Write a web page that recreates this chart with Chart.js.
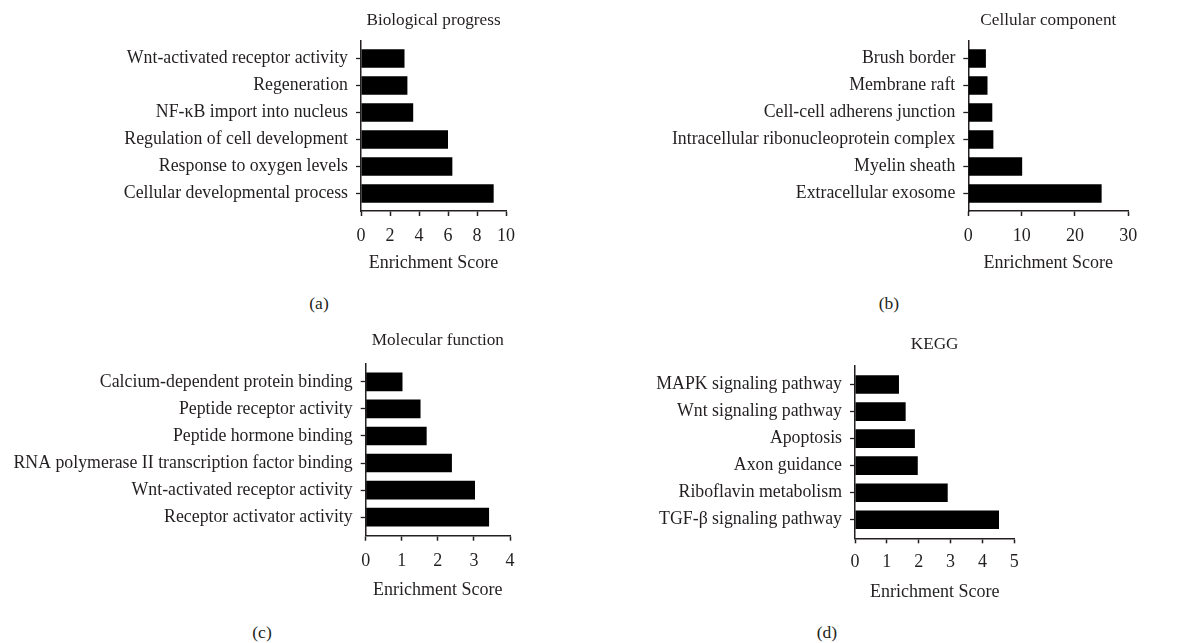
<!DOCTYPE html>
<html>
<head>
<meta charset="utf-8">
<script src="https://cdn.jsdelivr.net/npm/chart.js@4.4.1/dist/chart.umd.min.js"></script>
<style>
  html, body { margin: 0; padding: 0; background: #ffffff; }
  #wrap { position: relative; width: 1180px; height: 643px; overflow: hidden; background: #ffffff; }
  canvas { position: absolute; }
  .cap { position: absolute; font-family: "Liberation Serif", "DejaVu Serif", serif; font-size: 17.5px;
         color: #231f20; transform: translate(-50%, -50%); white-space: nowrap; line-height: 20px; }
</style>
</head>
<body>
<div id="wrap">
  <canvas id="chartA"></canvas>
  <canvas id="chartB"></canvas>
  <canvas id="chartC"></canvas>
  <canvas id="chartD"></canvas>
  <div class="cap" style="left:319px; top:303px">(a)</div>
  <div class="cap" style="left:889px; top:303px">(b)</div>
  <div class="cap" style="left:262px; top:632px">(c)</div>
  <div class="cap" style="left:827px; top:632px">(d)</div>
</div>
<script>
// Enrichment results, one list per GO / KEGG category
const bpTerms = [
  "Wnt-activated receptor activity",
  "Regeneration",
  "NF-κB import into nucleus",
  "Regulation of cell development",
  "Response to oxygen levels",
  "Cellular developmental process"
];
const bpScores = [3.0, 3.2, 3.6, 6.0, 6.3, 9.15];

const ccTerms = [
  "Brush border",
  "Membrane raft",
  "Cell-cell adherens junction",
  "Intracellular ribonucleoprotein complex",
  "Myelin sheath",
  "Extracellular exosome"
];
const ccScores = [3.3, 3.6, 4.5, 4.7, 10.1, 25.0];

const mfTerms = [
  "Calcium-dependent protein binding",
  "Peptide receptor activity",
  "Peptide hormone binding",
  "RNA polymerase II transcription factor binding",
  "Wnt-activated receptor activity",
  "Receptor activator activity"
];
const mfScores = [1.02, 1.52, 1.69, 2.39, 3.03, 3.42];

const keggTerms = [
  "MAPK signaling pathway",
  "Wnt signaling pathway",
  "Apoptosis",
  "Axon guidance",
  "Riboflavin metabolism",
  "TGF-β signaling pathway"
];
const keggScores = [1.38, 1.59, 1.88, 1.97, 2.91, 4.52];

// x-axis extents and tick steps
const bpAxis = [0, 10, 2];
const ccAxis = [0, 30, 10];
const mfAxis = [0, 4, 1];
const keggAxis = [0, 5, 1];

const panelTitles = ["Biological progress", "Cellular component", "Molecular function", "KEGG"];
const axisTitle = "Enrichment Score";

const INK = "#231f20";
const FONT = "'Liberation Serif', 'DejaVu Serif', serif";
const LABEL_FS = 17.8;
const TICK_FS = 18;
const TITLE_FS = 17.2;

// canvas box [left, top, width, height], plot area [L, T, R, B], title centre y, axis title centre y
function drawPanel(id, terms, scores, axis, title, geo) {
  const [cx, cy, cw, ch] = geo.box;
  const [L, T, R, B] = geo.area;
  const yW = L - cx;
  const padR = cx + cw - R;
  const tPadTop = geo.titleY - cy - 10;
  const tPadBottom = (T - cy) - tPadTop - 20;
  const xH = geo.axisTitleY + 10 - B;
  const padB = cy + ch - (B + xH);

  const cv = document.getElementById(id);
  cv.width = cw; cv.height = ch;
  cv.style.left = cx + "px"; cv.style.top = cy + "px";
  cv.style.width = cw + "px"; cv.style.height = ch + "px";

  new Chart(cv, {
    type: "bar",
    data: {
      labels: terms,
      datasets: [{
        data: scores,
        backgroundColor: "#000000",
        borderWidth: 0,
        categoryPercentage: 1,
        barPercentage: 0.69
      }]
    },
    options: {
      indexAxis: "y",
      responsive: false,
      animation: false,
      devicePixelRatio: 1,
      layout: { padding: { left: 0, top: 0, right: padR, bottom: Math.max(padB, 0) } },
      plugins: {
        legend: { display: false },
        tooltip: { enabled: false },
        title: {
          display: true,
          text: title,
          fullSize: false,
          color: INK,
          font: { family: FONT, size: TITLE_FS, weight: "normal", lineHeight: "20px" },
          padding: { top: tPadTop, bottom: tPadBottom }
        }
      },
      scales: {
        x: {
          type: "linear",
          min: axis[0],
          max: axis[1],
          border: { display: true, color: INK, width: 1.5 },
          grid: { display: true, drawOnChartArea: false, drawTicks: true, tickLength: 5, tickColor: INK, tickWidth: 1.5 },
          ticks: { stepSize: axis[2], color: INK, padding: geo.tickPad, font: { family: FONT, size: TICK_FS, lineHeight: "20px" } },
          title: { display: true, text: axisTitle, color: INK, padding: 0,
                   font: { family: FONT, size: TICK_FS, lineHeight: "20px" } },
          afterFit(s) { s.height = xH; }
        },
        y: {
          type: "category",
          offset: true,
          border: { display: true, color: INK, width: 1.5 },
          grid: { display: true, offset: false, drawOnChartArea: false, drawTicks: true, tickLength: 5, tickColor: INK, tickWidth: 1.3 },
          ticks: { color: INK, padding: 8, autoSkip: false, font: { family: FONT, size: LABEL_FS, lineHeight: "20px" } },
          afterFit(s) { s.width = yW; },
          // leave a little room above the first bar and below the last one
          afterBuildTicks(s) {
            if (typeof s._startValue === "number") {
              s._startValue -= geo.catPad;
              s._valueRange += 2 * geo.catPad;
            }
          }
        }
      }
    }
  });
}

drawPanel("chartA", bpTerms, bpScores, bpAxis, panelTitles[0],
  { box: [0, 0, 546, 273], area: [361, 41, 506, 211], titleY: 20, axisTitleY: 263, catPad: 0.15, tickPad: 10.5 });
drawPanel("chartB", ccTerms, ccScores, ccAxis, panelTitles[1],
  { box: [620, 0, 549, 273], area: [968.3, 41, 1128.3, 211], titleY: 20, axisTitleY: 263, catPad: 0.15, tickPad: 10.5 });
drawPanel("chartC", mfTerms, mfScores, mfAxis, panelTitles[2],
  { box: [0, 320, 550, 281], area: [365.7, 363.3, 510, 535.7], titleY: 340.7, axisTitleY: 590.7, catPad: 0.185, tickPad: 10.5 });
drawPanel("chartD", keggTerms, keggScores, keggAxis, panelTitles[3],
  { box: [620, 320, 440, 283], area: [855, 366, 1014.3, 538.3], titleY: 344, axisTitleY: 592.7, catPad: 0.185, tickPad: 8.5 });
</script>
</body>
</html>
